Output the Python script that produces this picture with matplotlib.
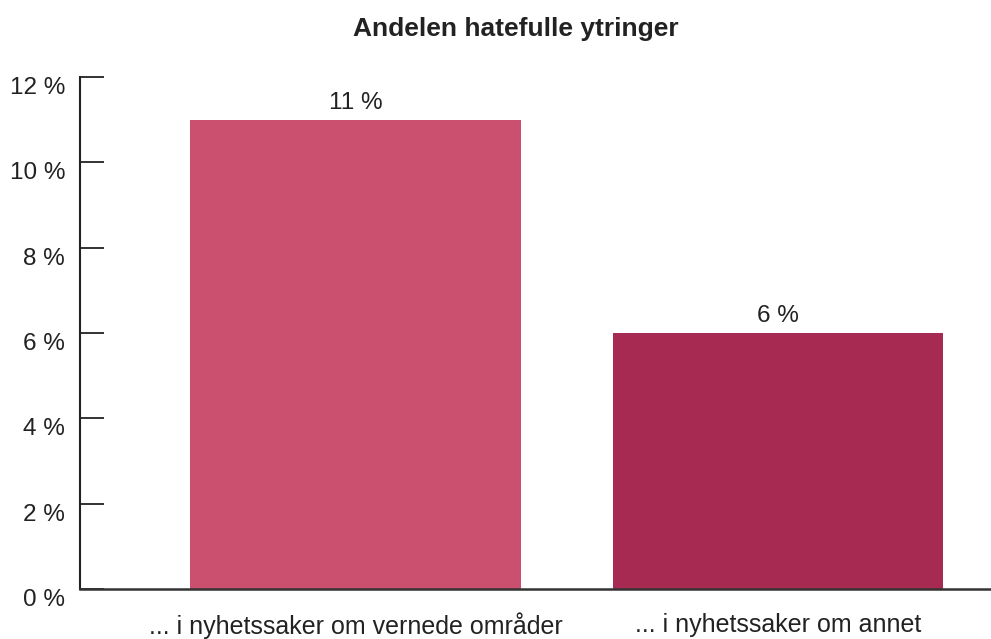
import matplotlib.pyplot as plt
import matplotlib.transforms as mtransforms

# Data
kategorier = ['... i nyhetssaker om vernede områder', '... i nyhetssaker om annet']
andeler = [11, 6]
farger = ['#CB4F6E', '#A62A52']
y_ticks = [0, 2, 4, 6, 8, 10, 12]

plt.rcParams['font.family'] = ['Liberation Sans', 'DejaVu Sans']

fig = plt.figure(figsize=(9.91, 6.39), dpi=100)
ax = fig.add_axes([80 / 991, 50 / 639, 911 / 991, 512 / 639])

pos = list(range(len(kategorier)))
bars = ax.bar(pos, andeler, width=0.783, color=farger)

for b, v in zip(bars, andeler):
    ax.annotate(f'{v} %', (b.get_x() + b.get_width() / 2, v), xytext=(0, 4),
                textcoords='offset points', ha='center', va='bottom',
                fontsize=17.5, color='#222222')

ax.set_xlim(-0.652, 1.504)
ax.set_ylim(0, 12)
ax.set_yticks(y_ticks)
ax.set_yticklabels([])
ax.tick_params(axis='y', direction='in', length=17, width=1.3, color='#222222')

# y-etiketter litt under tickene, som i originalen
off = mtransforms.ScaledTranslation(-15 / 100, -11 / 100, fig.dpi_scale_trans)
trans = ax.get_yaxis_transform() + off
for t in y_ticks:
    ax.text(0, t, f'{t} %', transform=trans, ha='right', va='center',
            fontsize=17.5, color='#222222')

ax.set_xticks(pos)
ax.set_xticklabels(kategorier, fontsize=18, color='#222222')
ax.tick_params(axis='x', length=0, pad=17)

for s in ['top', 'right']:
    ax.spines[s].set_visible(False)
ax.spines['left'].set_linewidth(1.5)
ax.spines['bottom'].set_linewidth(1.8)
ax.spines['left'].set_color('#222222')
ax.spines['bottom'].set_color('#333333')

fig.text(516 / 991, 1 - 29 / 639, 'Andelen hatefulle ytringer', ha='center', va='center',
         fontsize=19, fontweight='bold', color='#222222')

fig.savefig('out.png', dpi=100)
